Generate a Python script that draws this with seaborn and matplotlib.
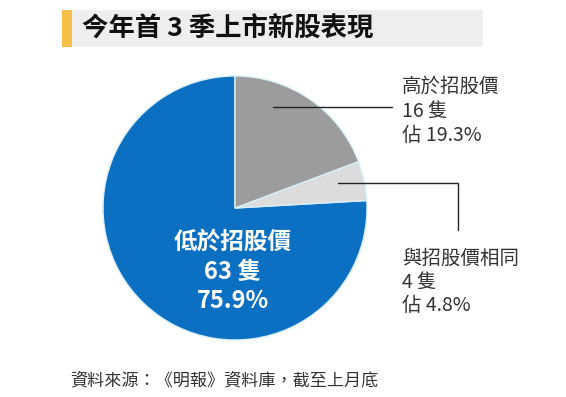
import matplotlib
matplotlib.use("Agg")
import matplotlib.pyplot as plt
import seaborn as sns
from matplotlib.patches import Rectangle

# ---- data ----
categories = ["低於招股價", "與招股價相同", "高於招股價"]
counts = [63, 4, 16]
percents = [75.9, 4.8, 19.3]
colors = ["#0B6FC2", "#DCDCDC", "#9C9C9C"]
title = "今年首 3 季上市新股表現"
source = "資料來源：《明報》資料庫，截至上月底"

sns.set_theme(style="white")
plt.rcParams['font.family'] = ['Noto Sans CJK TC', 'DejaVu Sans']

W, H = 566, 397
fig = plt.figure(figsize=(W / 100, H / 100), dpi=100)
fig.patch.set_facecolor("white")

# pie axes: centre (235,208), radius 132 px
cx, cy, r = 235, 208, 132
ax = fig.add_axes([(cx - r) / W, (H - cy - r) / H, 2 * r / W, 2 * r / H])
ax.pie(counts, colors=colors, startangle=90, counterclock=True,
       wedgeprops=dict(edgecolor="#D8F0F8", linewidth=1.0))
ax.set_xlim(-1, 1)
ax.set_ylim(-1, 1)
ax.set_aspect("equal")
ax.axis("off")

# overlay axes in pixel coordinates (top-left origin), drawn on top
ov = fig.add_axes([0, 0, 1, 1])
ov.set_xlim(0, W)
ov.set_ylim(H, 0)
ov.axis("off")
ov.patch.set_alpha(0)
ov.set_zorder(5)

# title band
ov.add_patch(Rectangle((62, 10), 421, 37, facecolor="#EEEEEE", edgecolor="none"))
ov.add_patch(Rectangle((62, 10), 10, 37, facecolor="#F5C04A", edgecolor="none"))
ov.text(82, 29, title, fontsize=19, fontweight="black", color="#111111",
        va="center", ha="left")

# inside label for the blue wedge
for y, s in [(242, categories[0]), (272, f"{counts[0]} 隻"), (301, f"{percents[0]}%")]:
    ov.text(233, y, s, fontsize=17, fontweight="bold", color="white",
            ha="center", va="center")

# leader lines
ov.plot([273, 392], [107, 107], color="#222222", lw=1)
ov.plot([338, 458, 458], [183, 183, 230], color="#222222", lw=1)

# right labels
tc = "#333333"
fs = 14
ov.text(402, 86, categories[2], fontsize=fs, color=tc, ha="left", va="center")
ov.text(402, 111, f"{counts[2]} 隻", fontsize=fs, color=tc, ha="left", va="center")
ov.text(402, 135, f"佔 {percents[2]}%", fontsize=fs, color=tc, ha="left", va="center")

ov.text(402, 258, categories[1], fontsize=fs, color=tc, ha="left", va="center")
ov.text(402, 282, f"{counts[1]} 隻", fontsize=fs, color=tc, ha="left", va="center")
ov.text(402, 305, f"佔 {percents[1]}%", fontsize=fs, color=tc, ha="left", va="center")

# source
ov.text(70, 380, source, fontsize=12.3, color="#333333", ha="left", va="center")

fig.savefig("out.png", dpi=100)
